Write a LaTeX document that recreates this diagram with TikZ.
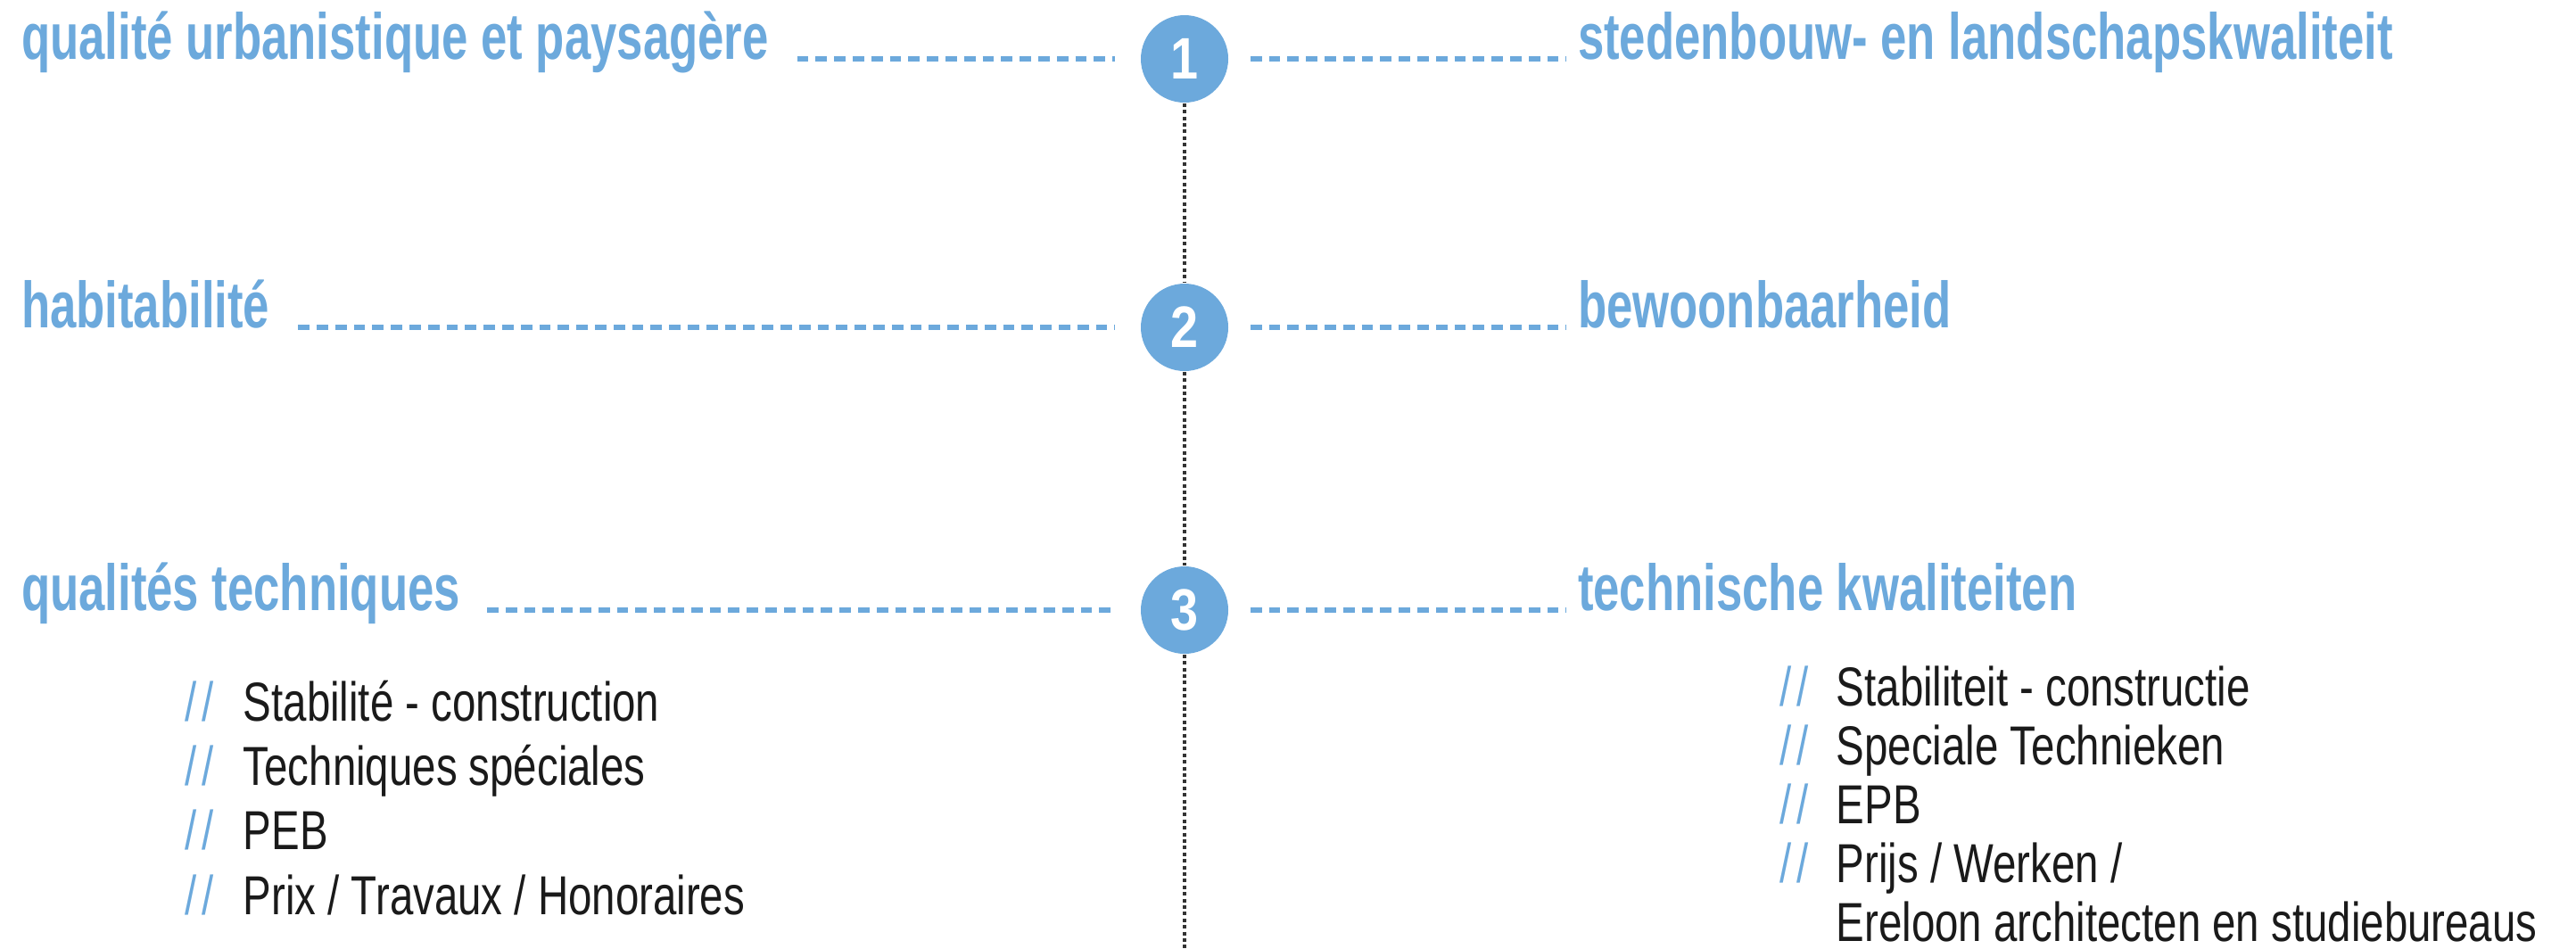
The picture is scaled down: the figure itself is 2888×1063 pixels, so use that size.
\documentclass[tikz,border=0pt]{standalone}
\usepackage{fontspec}
\newfontfamily\titlefont[FakeStretch=0.72]{Liberation Sans}
\newfontfamily\listfont[FakeStretch=0.77]{Liberation Sans}
\newfontfamily\numfont[FakeStretch=0.85]{Liberation Sans}
\definecolor{myblue}{HTML}{6CA9DC}
\definecolor{dotgray}{HTML}{333333}
\definecolor{listblack}{HTML}{1A1A1A}
\tikzset{
  rowtitle/.style={anchor=base west, inner sep=0pt, outer sep=0pt, text=myblue,
    font=\titlefont\bfseries\fontsize{18.3}{20}\selectfont},
  numcircle/.style={circle, fill=myblue, minimum size=24.5pt, inner sep=0pt, text=white,
    font=\numfont\bfseries\fontsize{16.4}{18}\selectfont},
  dashline/.style={myblue, line width=1.35pt, dash pattern=on 3.2pt off 2pt},
  dotline/.style={dotgray, line width=0.8pt, dash pattern=on 1pt off 0.85pt},
  slashes/.style={anchor=base west, inner sep=0pt, text=myblue,
    font=\listfont\fontsize{15.4}{17}\selectfont},
  listitem/.style={anchor=base west, inner sep=0pt, text=listblack,
    font=\listfont\fontsize{15.4}{17}\selectfont},
}
\begin{document}
\begin{tikzpicture}[x=0.25pt,y=-0.25pt]
\useasboundingbox (0,0) rectangle (2888,1063);

% circles
\node[numcircle] (c1) at (1328,66) {1};
\node[numcircle] (c2) at (1328,367) {2};
\node[numcircle] (c3) at (1328,684) {3};
\coordinate (bot) at (1328,1063);

% vertical dotted line
\draw[dotline] (c1) -- (c2);
\draw[dotline] (c2) -- (c3);
\draw[dotline] (c3) -- (bot);

% titles
\node[rowtitle] (l1) at (24,66) {qualité urbanistique et paysagère};
\node[rowtitle] (r1) at (1769,66) {stedenbouw- en landschapskwaliteit};
\node[rowtitle] (l2) at (24,367) {habitabilité};
\node[rowtitle] (r2) at (1769,367) {bewoonbaarheid};
\node[rowtitle] (l3) at (24,684) {qualités techniques};
\node[rowtitle] (r3) at (1769,684) {technische kwaliteiten};

% dashed connectors
\draw[dashline, shorten <=8pt, shorten >=7pt] (l1.base east) -- (c1.west);
\draw[dashline, shorten <=6pt, shorten >=3.25pt] (c1.east) -- (r1.base west);
\draw[dashline, shorten <=8pt, shorten >=7pt] (l2.base east) -- (c2.west);
\draw[dashline, shorten <=6pt, shorten >=3.25pt] (c2.east) -- (r2.base west);
\draw[dashline, shorten <=7.5pt, shorten >=7pt] (l3.base east) -- (c3.west);
\draw[dashline, shorten <=6pt, shorten >=3.25pt] (c3.east) -- (r3.base west);

% left list
\node[slashes] (ls1) at (207,808) {/\kern1.5pt/};
\node[listitem] (li1) at (272,808) {Stabilité - construction};
\node[slashes] (ls2) at (207,880) {/\kern1.5pt/};
\node[listitem] (li2) at (272,880) {Techniques spéciales};
\node[slashes] (ls3) at (207,952) {/\kern1.5pt/};
\node[listitem] (li3) at (272,952) {PEB};
\node[slashes] (ls4) at (207,1025) {/\kern1.5pt/};
\node[listitem] (li4) at (272,1025) {Prix / Travaux / Honoraires};

% right list
\node[slashes] (rs1) at (1995,791) {/\kern1.5pt/};
\node[listitem] (ri1) at (2058,791) {Stabiliteit - constructie};
\node[slashes] (rs2) at (1995,857) {/\kern1.5pt/};
\node[listitem] (ri2) at (2058,857) {Speciale Technieken};
\node[slashes] (rs3) at (1995,923) {/\kern1.5pt/};
\node[listitem] (ri3) at (2058,923) {EPB};
\node[slashes] (rs4) at (1995,989) {/\kern1.5pt/};
\node[listitem] (ri4) at (2058,989) {Prijs / Werken /};
\node[listitem] (ri5) at (2058,1055) {Ereloon architecten en studiebureaus};
\end{tikzpicture}
\end{document}
